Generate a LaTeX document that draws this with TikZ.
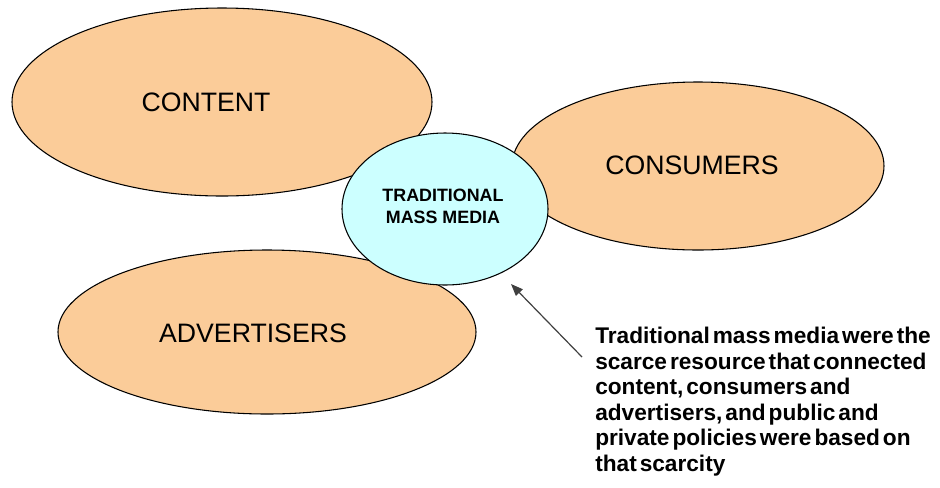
\documentclass[tikz,border=0pt]{standalone}
\usepackage{fontspec}
\setmainfont{Liberation Sans}
\usetikzlibrary{shapes.geometric,arrows.meta}
\definecolor{tan}{RGB}{251,204,153}
\definecolor{paleblue}{RGB}{204,255,255}
\newcommand\mynotefont{\fontsize{17}{19.1}\selectfont\bfseries\spaceskip=0.13em plus 0.05em\relax}
\tikzset{
  blob/.style={ellipse, draw=black, line width=0.8pt, fill=tan, inner sep=0pt},
  hub/.style={ellipse, draw=black, line width=0.8pt, fill=paleblue, inner sep=0pt},
  bigtext/.style={font=\fontsize{20}{24}\selectfont},
  hubtext/.style={font=\fontsize{13.4}{16.5}\selectfont\bfseries, align=center},
  note/.style={font=\mynotefont, align=left, anchor=north west, inner sep=0pt},
  pointer/.style={draw=black!75, line width=0.9pt, -{Triangle[length=9pt,width=7pt]}}
}
\begin{document}
\begin{tikzpicture}[x=0.75pt,y=-0.75pt]
\useasboundingbox (0,0) rectangle (940,487);
\node[blob, minimum width=315pt, minimum height=141pt] (content) at (222,102) {};
\node[bigtext] (contentlbl) at (206,102) {CONTENT};
\node[blob, minimum width=279pt, minimum height=126pt] (consumers) at (698,166) {};
\node[bigtext] (consumerslbl) at (692,165) {CONSUMERS};
\node[blob, minimum width=313.5pt, minimum height=123pt] (advertisers) at (267,332) {};
\node[bigtext] (advertiserslbl) at (253,333) {ADVERTISERS};
\node[hub, minimum width=154.5pt, minimum height=114pt] (media) at (445,209) {};
\node[hubtext] (medialbl) at (443,206) {TRADITIONAL\\MASS MEDIA};
\node[note] (notetext) at (595,327) {Traditional mass media were the\\scarce resource that connected\\content, consumers and\\advertisers, and public and\\private policies were based on\\that scarcity};
\coordinate (tail) at (582,357);
\coordinate (tip) at (511,284);
\draw[pointer] (tail) -- (tip);
\end{tikzpicture}
\end{document}
